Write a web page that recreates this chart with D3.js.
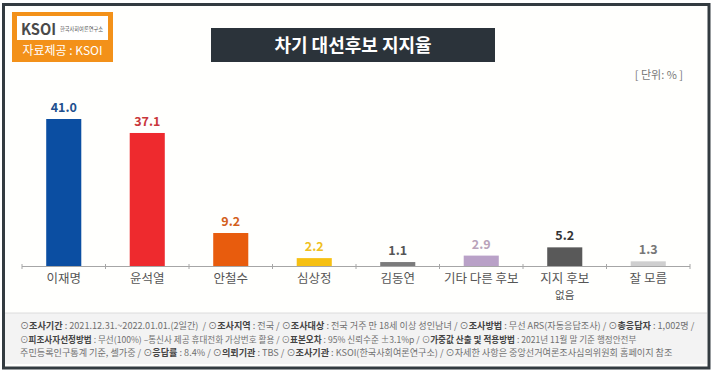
<!DOCTYPE html>
<meta charset="utf-8">
<script src="https://d3js.org/d3.v7.min.js"></script>
<style>
  body { margin: 0; background: #fff; }
  text { font-family: "Noto Sans CJK KR", "Noto Sans", sans-serif; }
</style>
<body>
<div id="chart"></div>
<script>
// data
var categories = ["이재명", "윤석열", "안철수", "심상정", "김동연", "기타 다른 후보", "지지 후보\n없음", "잘 모름"];
var values = [41.0, 37.1, 9.2, 2.2, 1.1, 2.9, 5.2, 1.3];
var barColors = ["#0b4ea2", "#ee2a2e", "#e85c0d", "#f6c012", "#7b7b7b", "#b9a1c7", "#595959", "#cfcfcf"];
var labelColors = ["#204f8e", "#c9373b", "#d3601c", "#f0c020", "#555555", "#b9a3ba", "#333333", "#777777"];

var footerLines = [
  [["⊙", 0], ["조사기간", 1], [" : 2021.12.31.~2022.01.01.(2일간)  / ⊙", 0], ["조사지역", 1], [" : 전국 / ⊙", 0], ["조사대상", 1], [" : 전국 거주 만 18세 이상 성인남녀 / ⊙", 0], ["조사방법", 1], [" : 무선 ARS(자동응답조사) / ⊙", 0], ["총응답자", 1], [" : 1,002명 /", 0]],
  [["⊙", 0], ["피조사자선정방법", 1], [" : 무선(100%) –통신사 제공 휴대전화 가상번호 활용 / ⊙", 0], ["표본오차", 1], [" : 95% 신뢰수준 ±3.1%p / ⊙", 0], ["가중값 산출 및 적용방법", 1], [" : 2021년 11월 말 기준 행정안전부", 0]],
  [["주민등록인구통계 기준, 셀가중 / ⊙", 0], ["응답률", 1], [" : 8.4% / ⊙", 0], ["의뢰기관", 1], [" : TBS / ⊙", 0], ["조사기관", 1], [" : KSOI(한국사회여론연구소) / ⊙자세한 사항은 중앙선거여론조사심의위원회 홈페이지 참조", 0]]
];
var footerEnds = [695, 637, 673];

var W = 712, H = 371;
var svg = d3.select("#chart").append("svg")
  .attr("width", W)
  .attr("height", H);

// frame
svg.append("rect").attr("x", 0).attr("y", 0).attr("width", W).attr("height", H).attr("fill", "#fff");
svg.append("rect")
  .attr("x", 3.5).attr("y", 4.5).attr("width", W - 6.5).attr("height", H - 7.5)
  .attr("fill", "#fffffd").attr("stroke", "#333b40").attr("stroke-width", 3);

// footer band
svg.append("rect")
  .attr("x", 5).attr("y", 313).attr("width", W - 10).attr("height", 51)
  .attr("fill", "#f3f3f3");
svg.append("line")
  .attr("x1", 5).attr("x2", W - 5).attr("y1", 313).attr("y2", 313)
  .attr("stroke", "#dcdcdc");

// each piece is its own text; font size scaled so the line ends where the reference does
var ft = svg.append("g").attr("class", "footer");
footerLines.forEach(function(line, i) {
  var base = 10, pieces = [], total = 0;
  line.forEach(function(p) {
    var t = ft.append("text")
      .attr("y", 329 + i * 13.5)
      .attr("font-size", base)
      .attr("font-weight", p[1] ? "bold" : "normal")
      .attr("fill", p[1] ? "#444" : "#707070")
      .style("white-space", "pre")
      .text(p[0]);
    pieces.push(t);
    total += t.node().getComputedTextLength();
  });
  var fs = base * (footerEnds[i] - 20) / total;
  var cx = 20;
  pieces.forEach(function(t) {
    t.attr("font-size", fs).attr("x", cx);
    cx += t.node().getComputedTextLength();
  });
});

// logo
var logo = svg.append("g");
logo.append("rect").attr("x", 12).attr("y", 12).attr("width", 101).attr("height", 50).attr("fill", "#f39119");
logo.append("rect").attr("x", 17).attr("y", 16).attr("width", 91).attr("height", 24).attr("fill", "#fff");
logo.append("text")
  .attr("x", 21).attr("y", 35)
  .attr("font-size", 16).attr("font-weight", "bold").attr("fill", "#4a4a4a")
  .attr("font-family", "Roboto, sans-serif")
  .attr("textLength", 35).attr("lengthAdjust", "spacingAndGlyphs")
  .text("KSOI");
logo.append("text")
  .attr("x", 60).attr("y", 31)
  .attr("font-size", 5.5).attr("fill", "#555")
  .attr("textLength", 43).attr("lengthAdjust", "spacingAndGlyphs")
  .text("한국사회여론연구소");
logo.append("text")
  .attr("x", 62.5).attr("y", 55)
  .attr("text-anchor", "middle")
  .attr("font-size", 12).attr("fill", "#fff")
  .text("자료제공 : KSOI");

// title box
svg.append("rect").attr("x", 211).attr("y", 28).attr("width", 284).attr("height", 34).attr("fill", "#2b333a");
svg.append("text")
  .attr("x", 353).attr("y", 51.5)
  .attr("text-anchor", "middle")
  .attr("font-size", 18).attr("font-weight", "bold").attr("fill", "#fff")
  .text("차기 대선후보 지지율");

svg.append("text")
  .attr("x", 683).attr("y", 79)
  .attr("text-anchor", "end")
  .attr("font-size", 11).attr("fill", "#777")
  .text("[ 단위: % ]");

// chart
var baseY = 266;
var x = d3.scaleBand()
  .domain(categories)
  .range([22, 690])
  .paddingInner(0.58)
  .paddingOuter(0.29);
var y = d3.scaleLinear()
  .domain([0, 41])
  .range([baseY, 119]);

var step = x.step();
var axis = svg.append("g");
axis.append("line")
  .attr("x1", 22).attr("x2", 690).attr("y1", baseY + 0.5).attr("y2", baseY + 0.5)
  .attr("stroke", "#a6a6a6");
axis.selectAll(".tick")
  .data(d3.range(categories.length + 1))
  .enter().append("line")
  .attr("x1", function(i) { return 22 + i * step; })
  .attr("x2", function(i) { return 22 + i * step; })
  .attr("y1", baseY - 2).attr("y2", baseY + 3)
  .attr("stroke", "#a6a6a6");

svg.selectAll(".bar")
  .data(values)
  .enter().append("rect")
  .attr("class", "bar")
  .attr("x", function(d, i) { return x(categories[i]); })
  .attr("y", function(d) { return y(d); })
  .attr("width", x.bandwidth())
  .attr("height", function(d) { return baseY - y(d); })
  .attr("fill", function(d, i) { return barColors[i]; });

svg.selectAll(".val")
  .data(values)
  .enter().append("text")
  .attr("class", "val")
  .attr("x", function(d, i) { return x(categories[i]) + x.bandwidth() / 2; })
  .attr("y", function(d) { return y(d) - 7; })
  .attr("text-anchor", "middle")
  .attr("font-size", 12.5).attr("font-weight", "bold")
  .attr("fill", function(d, i) { return labelColors[i]; })
  .text(function(d) { return d.toFixed(1); });

// category labels; a two-line label gets a second, smaller text below
categories.forEach(function(d) {
  var cx = x(d) + x.bandwidth() / 2;
  d.split("\n").forEach(function(s, k) {
    svg.append("text")
      .attr("class", "cat")
      .attr("x", cx)
      .attr("y", k === 0 ? 283 : 299)
      .attr("text-anchor", "middle")
      .attr("font-size", k === 0 ? 12.5 : 10.5)
      .attr("fill", "#555")
      .text(s);
  });
});
</script>
</body>
